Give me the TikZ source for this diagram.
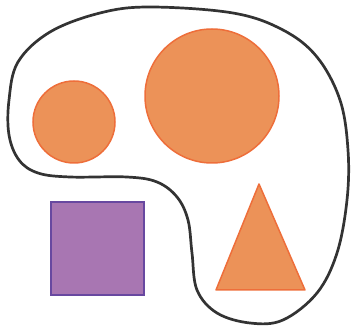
\documentclass[tikz,border=0pt]{standalone}
\usepackage{tikz}
\definecolor{shapeOrange}{RGB}{236, 146, 88}
\definecolor{edgeOrange}{RGB}{238, 110, 58}
\definecolor{shapePurple}{RGB}{168, 118, 178}
\definecolor{edgePurple}{RGB}{104, 72, 160}

\begin{document}
\begin{tikzpicture}[x=1pt, y=-1pt]
        \useasboundingbox (0,0) rectangle (354,331);
        % Closed curve
        \draw[line width=2.7pt, black!80] plot[smooth cycle, tension=0.6] coordinates {
          (150,7) (233,13) (283,30) (317,57) (340,100) (348,150) (347,200)
          (337,253) (317,293) (283,320) (250,323) (217,313) (197,290)
          (192,253) (188,220) (177,197) (157,182) (127,177) (70,177)
          (38,173) (19,160) (9,135) (9,100) (18,62) (50,32) (100,13)};
        % Circles
        \draw[fill=shapeOrange, draw=edgeOrange, line width=1.5pt] (74,122) circle[radius=41];
        \draw[fill=shapeOrange, draw=edgeOrange, line width=1.5pt] (212,96) circle[radius=67];
        % Triangle
        \draw[fill=shapeOrange, draw=edgeOrange, line width=1.5pt, line join=round] (259,184) -- (216,290) -- (305,290) -- cycle;
        % Square
        \draw[fill=shapePurple, draw=edgePurple, line width=2pt] (51,202) rectangle (144,295);
      \end{tikzpicture}
\end{document}
